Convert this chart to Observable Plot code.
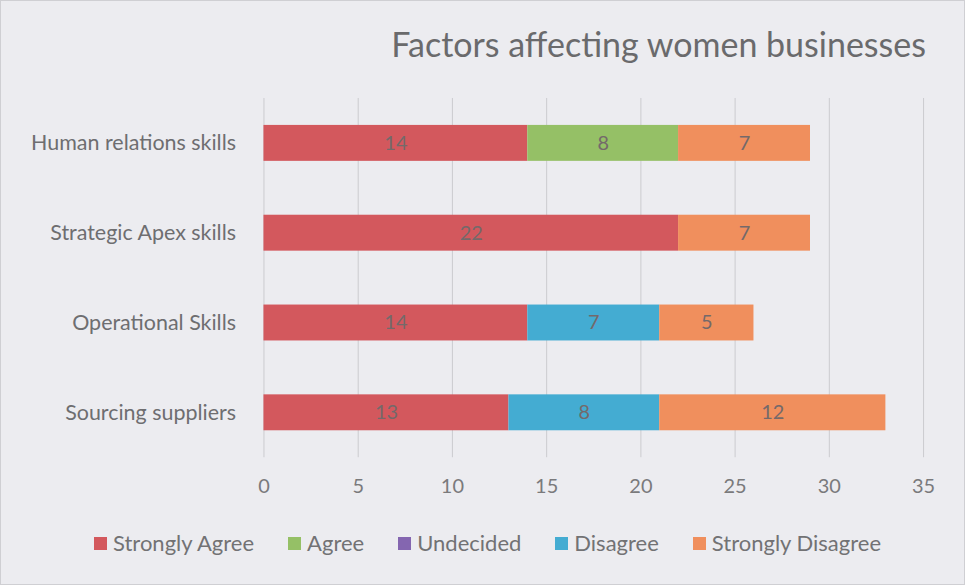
<!DOCTYPE html>
<html><head><meta charset="utf-8">
<script src="https://cdn.jsdelivr.net/npm/d3@7"></script>
<script src="https://cdn.jsdelivr.net/npm/@observablehq/plot@0.6"></script>
<style>
  html,body{margin:0;padding:0;background:#ececf0;}
  #wrap{position:relative;width:963px;height:583px;border:1px solid #cfcfd3;background:#ececf0;font-family:Lato, "Open Sans", sans-serif;overflow:hidden;}
  #title{position:absolute;left:0;right:0;top:22px;text-align:right;padding-right:38px;font-size:34px;color:#6a6a6c;}
  #chart{position:absolute;left:0;top:85px;}
  #legend{position:absolute;left:0;right:0;top:528px;display:flex;justify-content:center;gap:34px;font-size:22px;color:#727274;padding-left:10px}
  #legend span.sw{display:inline-block;width:13px;height:13px;margin-right:6px;vertical-align:1px}
</style></head>
<body>
<div id="wrap">
  <div id="title">Factors affecting women businesses</div>
  <div id="chart"></div>
  <div id="legend"></div>
</div>
<script>
const categories = ["Human relations skills","Strategic Apex skills","Operational Skills","Sourcing suppliers"];
const seriesNames = ["Strongly Agree","Agree","Undecided","Disagree","Strongly Disagree"];
const stronglyAgree    = [14, 22, 14, 13];
const agree            = [8, 0, 0, 0];
const undecided        = [0, 0, 0, 0];
const disagree         = [0, 0, 7, 8];
const stronglyDisagree = [7, 7, 5, 12];
const xTicks = [0,5,10,15,20,25,30,35];
const colors = ["#d3585d","#95c066","#8466b0","#44acd2","#f08f5d"];

const seriesValues = [stronglyAgree, agree, undecided, disagree, stronglyDisagree];
const data = [];
seriesNames.forEach((s, si) => categories.forEach((c, ci) => data.push({category: c, series: s, value: seriesValues[si][ci]})));

const stackOpts = {x: "value", y: "category", order: seriesNames};
const plot = Plot.plot({
  width: 965, height: 430,
  marginLeft: 263, marginRight: 41, marginTop: 12, marginBottom: 58,
  style: {background: "transparent", fontFamily: "Lato, 'Open Sans', sans-serif", color: "#777779"},
  x: {domain: [0, 35], ticks: xTicks, label: null, tickSize: 0, tickPadding: 21, grid: false},
  y: {domain: categories, label: null, tickSize: 0, tickPadding: 28, paddingInner: 0.6, paddingOuter: 0.3},
  color: {domain: seriesNames, range: colors},
  marks: [
    Plot.ruleX(xTicks, {x: d => d, stroke: "#cbcbcf", strokeWidth: 1}),
    Plot.barX(data, Plot.stackX({...stackOpts, fill: "series", inset: 0})),
    Plot.text(data.filter(d => d.value > 0), Plot.stackX({...stackOpts, z: "series", text: d => String(d.value), fill: "#74696a", fontSize: 20})),
    Plot.axisX({ticks: xTicks, tickSize: 0, tickPadding: 21, fontSize: 20, fill: "#7a7a7c", label: null}),
    Plot.axisY({tickSize: 0, tickPadding: 28, fontSize: 21.5, fill: "#6e6e70", label: null})
  ]
});
document.getElementById("chart").appendChild(plot);

const legend = document.getElementById("legend");
seriesNames.forEach((s, i) => {
  const item = document.createElement("div");
  item.innerHTML = `<span class="sw" style="background:${colors[i]}"></span>${s}`;
  legend.appendChild(item);
});
</script>
</body></html>
